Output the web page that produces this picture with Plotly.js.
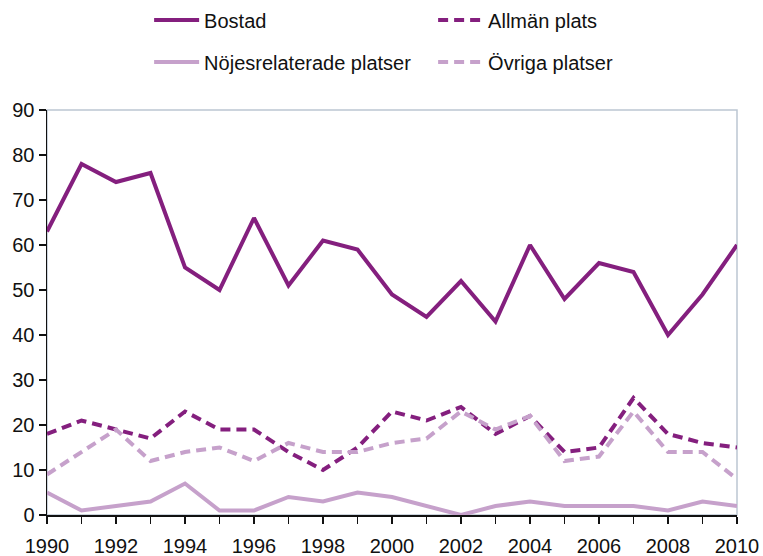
<!DOCTYPE html>
<html>
<head>
<meta charset="utf-8">
<script src="https://cdn.plot.ly/plotly-3.0.1.min.js"></script>
<style>html,body{margin:0;padding:0;background:#fff}#chart{width:763px;height:556px}</style>
</head>
<body>
<div id="chart"></div>
<script>
const years = [1990,1991,1992,1993,1994,1995,1996,1997,1998,1999,2000,2001,2002,2003,2004,2005,2006,2007,2008,2009,2010];
const bostad = [63,78,74,76,55,50,66,51,61,59,49,44,52,43,60,48,56,54,40,49,60];
const allmanPlats = [18,21,19,17,23,19,19,14,10,15,23,21,24,18,22,14,15,26,18,16,15];
const nojesPlatser = [5,1,2,3,7,1,1,4,3,5,4,2,0,2,3,2,2,2,1,3,2];
const ovrigaPlatser = [9,14,19,12,14,15,12,16,14,14,16,17,23,19,22,12,13,23,14,14,8];

const dark = '#841f7e';
const light = '#c6a1cb';

const traces = [
  {x: years, y: bostad, name: 'Bostad', mode: 'lines', line: {color: dark, width: 4}, legend: 'legend'},
  {x: years, y: allmanPlats, name: 'Allmän plats', mode: 'lines', line: {color: dark, width: 4, dash: '10px,6px'}, legend: 'legend'},
  {x: years, y: nojesPlatser, name: 'Nöjesrelaterade platser', mode: 'lines', line: {color: light, width: 4}, legend: 'legend2'},
  {x: years, y: ovrigaPlatser, name: 'Övriga platser', mode: 'lines', line: {color: light, width: 4, dash: '10px,6px'}, legend: 'legend2'}
];

const legendBase = {
  orientation: 'h', x: 0.148, xanchor: 'left', yanchor: 'middle',
  entrywidth: 224, itemwidth: 45, font: {size: 20, color: '#111'},
  traceorder: 'normal', bgcolor: 'rgba(0,0,0,0)'
};

const layout = {
  width: 763, height: 556,
  margin: {l: 47, r: 26, t: 110, b: 41, autoexpand: false},
  paper_bgcolor: '#fff', plot_bgcolor: '#fff',
  font: {family: 'Liberation Sans, Arial, sans-serif', size: 20, color: '#111'},
  showlegend: true,
  legend: Object.assign({}, legendBase, {y: 1.222}),
  legend2: Object.assign({}, legendBase, {y: 1.1185}),
  xaxis: {
    range: [1990, 2010], dtick: 2, tick0: 1990, showgrid: false, zeroline: false,
    showline: true, linecolor: '#111', linewidth: 1.5,
    ticks: 'outside', ticklen: 7, tickcolor: '#111', tickwidth: 1.2,
    minor: {dtick: 1, tick0: 1990, ticks: 'outside', ticklen: 7, tickcolor: '#111', tickwidth: 1.2, showgrid: false},
    tickfont: {size: 20, color: '#111'}, ticklabelstandoff: 5, fixedrange: true
  },
  yaxis: {
    range: [0, 90], dtick: 10, showgrid: false, zeroline: false,
    showline: true, linecolor: '#111', linewidth: 1.5,
    ticks: 'outside', ticklen: 7, tickcolor: '#111', tickwidth: 1.2,
    tickfont: {size: 20, color: '#111'}, fixedrange: true
  },
  shapes: [
    {type: 'rect', xref: 'paper', yref: 'paper', x0: 0, x1: 1, y0: 0, y1: 1,
     line: {color: '#bcc6d2', width: 1.5}, layer: 'below'}
  ]
};

Plotly.newPlot('chart', traces, layout, {staticPlot: true, displayModeBar: false});
</script>
</body>
</html>
